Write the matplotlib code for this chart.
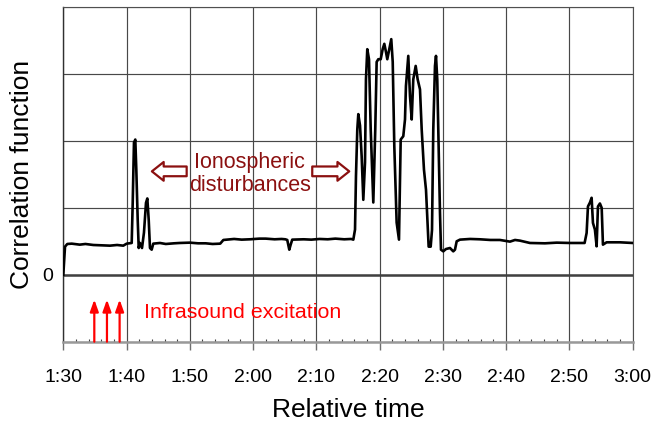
import matplotlib
matplotlib.use('Agg')
import matplotlib.pyplot as plt
import numpy as np

plt.rcParams['font.family'] = ['Liberation Sans', 'DejaVu Sans']

# Time in minutes (1:30 = 90 min), correlation value
time_min = [90.0, 90.27, 90.63, 91.33, 92.6, 93.5, 94.74, 96.1, 97.38, 98.5, 99.48,
            100.02, 100.81,
            100.97, 101.17, 101.38, 101.54, 101.76, 101.92, 102.12, 102.44, 102.75,
            103.07, 103.28, 103.50, 103.70, 103.97, 104.22, 105.28, 106.2, 107.5,
            108.4, 110.0, 111.3, 112.5, 113.6, 114.8, 115.3, 117.0, 118.2, 119.5,
            121.0, 122.0, 123.4, 124.5, 125.1, 125.4, 125.72,
            125.94, 126.19, 128.0, 129.2, 130.5, 131.8, 133.0, 134.4, 135.5, 135.84,
            136.11, 136.26,
            136.47, 136.63, 136.90, 137.16, 137.42, 137.69, 137.84, 138.05, 138.32,
            138.59, 139.00, 139.31, 139.53, 139.79, 140.17, 140.48, 140.74, 141.00,
            141.21, 141.53, 141.84, 142.07, 142.32, 142.69, 143.06, 143.33, 143.74,
            144.01, 144.16, 144.53, 144.80, 145.07, 145.32, 145.70, 146.01, 146.38,
            146.65, 147.01, 147.33, 147.53, 147.75, 148.07, 148.28, 148.48, 148.75,
            148.91, 149.11, 149.33, 149.54, 149.70, 150.06, 150.49, 151.12, 151.64,
            151.91, 152.18, 152.70, 154.3, 155.86, 157.5, 159.02, 160.6, 161.4,
            162.18, 163.76, 166.13, 168.0, 170.1, 172.4, 172.72, 172.93, 173.25,
            173.51, 173.72, 174.03, 174.30, 174.51, 174.82, 175.10, 175.30, 175.88,
            177.98, 180.0]
corr = [0.0, 0.42, 0.46, 0.465, 0.45, 0.46, 0.445, 0.44, 0.435, 0.445, 0.435,
        0.465, 0.475,
        1.075, 1.975, 2.02, 1.57, 0.82, 0.40, 0.475, 0.40, 0.63,
        1.075, 1.14, 0.82, 0.40, 0.375, 0.465, 0.475, 0.46, 0.47,
        0.475, 0.48, 0.47, 0.47, 0.46, 0.465, 0.52, 0.535, 0.525, 0.53,
        0.54, 0.54, 0.53, 0.535, 0.53, 0.52, 0.375,
        0.45, 0.525, 0.53, 0.525, 0.535, 0.53, 0.54, 0.53, 0.535, 0.525,
        0.675, 1.47,
        2.17, 2.40, 2.23, 1.77, 1.12, 1.68, 2.92, 3.37, 3.22,
        2.17, 1.08, 2.17, 3.18, 3.22, 3.22, 3.37, 3.45, 3.33,
        3.22, 3.37, 3.52, 3.18, 1.92, 0.78, 0.525, 2.02, 2.07,
        2.32, 2.82, 3.27, 2.67, 2.32, 2.92, 3.12, 2.92, 2.77,
        2.17, 1.57, 1.27, 0.87, 0.42, 0.42, 0.67, 2.17, 3.12,
        3.27, 2.92, 1.92, 0.93, 0.375, 0.35, 0.385, 0.40, 0.35,
        0.375, 0.50, 0.525, 0.535, 0.53, 0.52, 0.52, 0.495, 0.52,
        0.51, 0.475, 0.47, 0.48, 0.475, 0.475, 0.625, 1.02, 1.08,
        1.15, 0.775, 0.675, 0.425, 1.02, 1.065, 1.0, 0.45, 0.485,
        0.485, 0.475]

# Infrasound excitation moments (minutes)
excitation_times = [94.9, 96.9, 98.9]

x_ticks = list(range(90, 181, 10))
x_tick_labels = [f"{m // 60}:{m % 60:02d}" for m in x_ticks]

dark_red = '#8b1010'

fig = plt.figure(figsize=(6.54, 4.28), dpi=100)
ax = fig.add_axes([0.0968, 0.2016, 0.8706, 0.782])

ax.set_xlim(90, 180)
ax.set_ylim(-1, 4)

ax.set_xticks(x_ticks)
ax.set_xticklabels(x_tick_labels, fontsize=14)
ax.set_xticks(np.arange(90, 181, 2), minor=True)
ax.set_yticks([-1, 0, 1, 2, 3, 4])
ax.set_yticklabels(['', '0', '', '', '', ''], fontsize=14)

ax.grid(True, which='major', color='#484848', linewidth=0.85)
ax.tick_params(axis='x', which='major', direction='out', length=6, width=1,
               color='#707070', pad=14)
ax.tick_params(axis='x', which='minor', direction='in', length=2.5, width=0.8,
               color='#404040')
ax.tick_params(axis='y', length=0, pad=7)

for side in ['top', 'right']:
    ax.spines[side].set_color('#505050')
    ax.spines[side].set_linewidth(0.8)
ax.spines['left'].set_color('#303030')
ax.spines['left'].set_linewidth(1.0)
ax.spines['bottom'].set_color('#999999')
ax.spines['bottom'].set_linewidth(1.8)

ax.axhline(0, color='#404040', linewidth=1.8, zorder=2)

ax.plot(time_min, corr, color='black', linewidth=1.9, zorder=3)

# Infrasound arrows
for t in excitation_times:
    ax.annotate('', xy=(t, -0.37), xytext=(t, -1.0),
                arrowprops=dict(arrowstyle='-|>,head_length=0.7,head_width=0.25',
                                color='red', lw=1.6, mutation_scale=10,
                                shrinkA=0, shrinkB=0), zorder=4)
ax.text(102.8, -0.57, 'Infrasound excitation', color='red', fontsize=15.4,
        va='center', ha='left')

# Ionospheric disturbances label with hollow arrows
ax.text(119.5, 1.5, 'Ionospheric\ndisturbances', color=dark_red, fontsize=15.5,
        ha='center', va='center', linespacing=1.12)
block = 'simple,head_length=0.85,head_width=1.35,tail_width=0.7'
ax.annotate('', xy=(104.0, 1.545), xytext=(109.5, 1.545),
            arrowprops=dict(arrowstyle=block, mutation_scale=10, fc='white',
                            ec=dark_red, lw=1.6, shrinkA=0, shrinkB=0))
ax.annotate('', xy=(135.2, 1.545), xytext=(129.35, 1.545),
            arrowprops=dict(arrowstyle=block, mutation_scale=10, fc='white',
                            ec=dark_red, lw=1.6, shrinkA=0, shrinkB=0))

ax.set_xlabel('Relative time', fontsize=19, labelpad=8)
ax.set_ylabel('Correlation function', fontsize=19, labelpad=6)

fig.savefig('out.png', dpi=100)
